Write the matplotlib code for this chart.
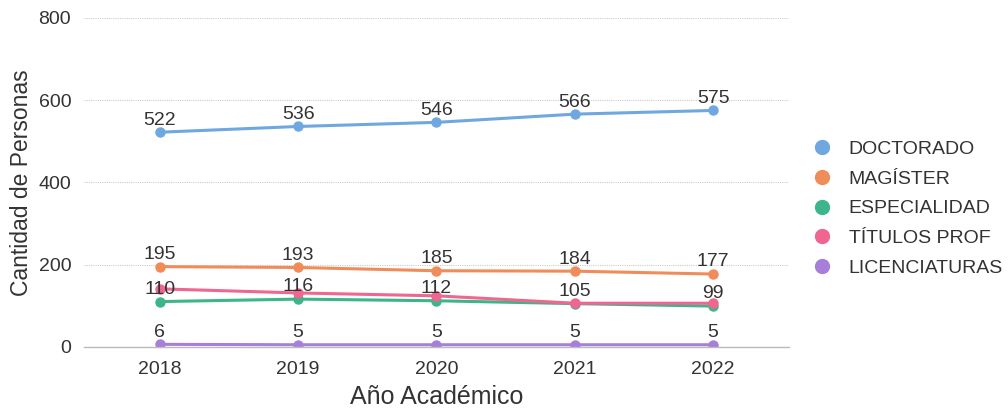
import matplotlib
matplotlib.use("Agg")
import matplotlib.pyplot as plt

plt.rcParams['font.family'] = ['Liberation Sans', 'DejaVu Sans']

years = ["2018", "2019", "2020", "2021", "2022"]
doctorado = [522, 536, 546, 566, 575]
magister = [195, 193, 185, 184, 177]
especialidad = [110, 116, 112, 105, 99]
titulos = [141, 131, 124, 106, 106]
licenciaturas = [6, 5, 5, 5, 5]

series = [
    ("DOCTORADO", doctorado, "#6fa8e0", True),
    ("MAGÍSTER", magister, "#f08c5a", True),
    ("ESPECIALIDAD", especialidad, "#3db58a", True),
    ("TÍTULOS PROF", titulos, "#ef6690", False),
    ("LICENCIATURAS", licenciaturas, "#a77fdb", True),
]

fig = plt.figure(figsize=(10.08, 4.08), dpi=100)
ax = fig.add_axes([0.083, 0.15, 0.70, 0.806])
x = list(range(len(years)))

for name, vals, color, show in series:
    ax.plot(x, vals, color=color, lw=2.2, marker='o', ms=6.5, label=name,
            solid_capstyle='round')
for name, vals, color, show in series:
    if show:
        for xi, v in zip(x, vals):
            ax.annotate(str(v), (xi, v), xytext=(0, 5.5), textcoords='offset points',
                        ha='center', va='baseline', fontsize=14, color='#333333')

ax.set_xlim(-0.55, 4.55)
ax.set_ylim(0, 800)
ax.set_yticks([0, 200, 400, 600, 800])
ax.set_xticks(x)
ax.set_xticklabels(years)
ax.tick_params(axis='both', length=0, labelsize=14, colors='#333333')
ax.tick_params(axis='y', pad=9)
ax.tick_params(axis='x', pad=10)
ax.grid(axis='y', color='#cccccc', linestyle=(0, (1, 1)), lw=0.8)
ax.set_axisbelow(True)
for s in ['top', 'right', 'left']:
    ax.spines[s].set_visible(False)
ax.spines['bottom'].set_color('#bbbbbb')
ax.spines['bottom'].set_linewidth(1.0)
ax.set_ylabel("Cantidad de Personas", fontsize=16.5, color='#333333', labelpad=4)
ax.set_xlabel("Año Académico", fontsize=18, color='#333333', labelpad=5)

leg = ax.legend(loc='center left', bbox_to_anchor=(1.01, 0.42), frameon=False,
                fontsize=14, handlelength=0.8, handletextpad=1.0, labelspacing=0.62)
for h in leg.legend_handles:
    h.set_linestyle('none')
    h.set_markersize(10)
for t in leg.get_texts():
    t.set_color('#333333')

fig.savefig("out.png", dpi=100)
